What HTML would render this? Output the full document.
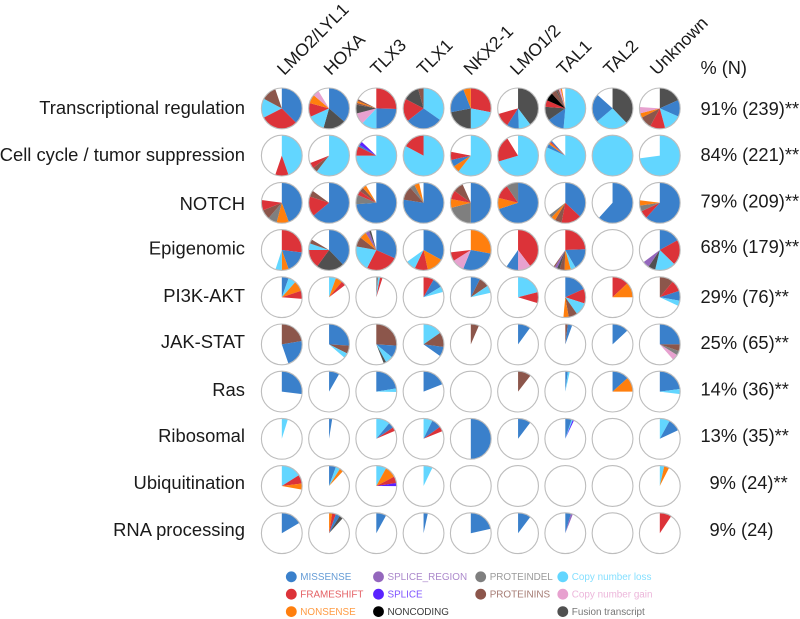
<!DOCTYPE html>
<html lang="en">
<head>
<meta charset="utf-8">
<title>Mutation pathways by subgroup</title>
<style>
html,body{margin:0;padding:0;background:#fff;width:800px;height:619px;overflow:hidden}
svg{display:block;font-family:"Liberation Sans",Arial,sans-serif;filter:blur(0.35px)}
</style>
</head>
<body>
<svg id="chart" xmlns="http://www.w3.org/2000/svg" width="800" height="619" viewBox="0 0 800 619"></svg>
<script>
const subgroups = ['LMO2/LYL1','HOXA','TLX3','TLX1','NKX2-1','LMO1/2','TAL1','TAL2','Unknown'];
const pathways = ['Transcriptional regulation','Cell cycle / tumor suppression','NOTCH','Epigenomic','PI3K-AKT','JAK-STAT','Ras','Ribosomal','Ubiquitination','RNA processing'];
const totals = ['91% (239)**','84% (221)**','79% (209)**','68% (179)**','29% (76)**','25% (65)**','14% (36)**','13% (35)**','9% (24)**','9% (24)'];
const typeKeys = ['M','F','N','R','S','C','D','I','L','G','T'];
const typeNames = ['MISSENSE','FRAMESHIFT','NONSENSE','SPLICE_REGION','SPLICE','NONCODING','PROTEINDEL','PROTEININS','Copy number loss','Copy number gain','Fusion transcript'];
const typeColors = ['#3a80cb','#dc3339','#ff7f0e','#9467bd','#5a22ff','#000000','#7f7f7f','#8c564b','#62d6ff','#e7a1cf','#505050'];

/* Each pie: alternating type key and percent of samples, clockwise from 12 o'clock */
const transcriptional = [
  ['M',37.5,'F',30,'L',15.3,'I',12],
  ['M',36.4,'T',18,'L',13.9,'F',11,'N',7,'G',5],
  ['F',25.5,'M',24.5,'L',12,'G',9,'T',7,'I',1.5,'N',1.5,'I',1.5],
  ['L',34.7,'M',29.7,'F',18.3,'T',13,'I',4.3],
  ['F',28,'L',22,'T',22,'M',22,'N',6],
  ['T',39.7,'L',9.7,'M',9.7,'F',11.5],
  ['L',51.4,'M',13.9,'T',11,'F',5.3,'C',6.7,'I',4,'T',1,'I',1.5,'G',1.5,'N',1],
  ['T',37.8,'L',26,'M',22.8],
  ['T',18.3,'M',13.3,'L',14.2,'F',12,'I',9.7,'N',3.6,'G',5]
];
const cellCycle = [
  ['L',44.7,'F',10.5],
  ['L',60.5,'I',4,'F',4.5],
  ['L',75,'F',7.5,'M',1.5,'S',3],
  ['L',82.8,'F',17.2],
  ['L',60.5,'N',5.5,'M',5.5,'F',6.5],
  ['L',70.3,'F',20.8],
  ['L',81.7,'M',3,'N',1.5,'F',1,'M',1],
  ['L',100],
  ['L',72.8]
];
const notch = [
  ['M',44.4,'N',9.7,'D',7.3,'I',7.5,'F',8.3],
  ['M',64,'F',16,'I',5],
  ['M',73.9,'D',7.5,'F',3.5,'I',3.5,'N',3],
  ['M',77.5,'I',11,'D',4,'N',4],
  ['M',50,'D',21,'N',7,'F',7,'I',8.3],
  ['M',70,'N',9,'F',11.5,'D',9.5],
  ['M',37,'F',16,'I',5.5,'N',3.5,'D',2.5],
  ['M',61.7],
  ['M',61.7,'F',6.4,'D',4.7,'N',4.2]
];
const epigenomic = [
  ['F',27,'M',17.5,'N',5.5,'L',5],
  ['M',37.8,'T',22.2,'F',15,'L',5.3,'I',3.3],
  ['M',31.7,'F',25.8,'L',20.3,'I',7.8,'N',5.6,'R',3,'T',1.5],
  ['M',33,'N',13.6,'F',10.5,'L',8],
  ['N',27.8,'M',28.3,'G',10,'F',7],
  ['F',39.7,'G',10.3,'M',9.7],
  ['F',24.4,'M',17.2,'L',4,'N',5,'I',4,'T',2.2,'R',2,'I',1],
  [],
  ['M',17,'F',20.3,'L',16.4,'T',5.8,'R',5.3]
];
const pi3kAkt = [
  ['M',5.5,'L',6.1,'N',8.3,'F',6.4],
  ['L',5.5,'N',5.5,'F',3.7],
  ['D',1.5,'L',1.5,'F',2],
  ['F',8.3,'M',8,'L',4.5],
  ['M',7.5,'I',8,'L',6],
  ['L',21,'F',8.7],
  ['M',18.3,'F',11.7,'L',10.3,'I',7,'N',4.2],
  ['F',13,'N',12],
  ['I',11,'F',9,'M',7.8,'L',4.2]
];
const jakStat = [
  ['I',22.3,'M',22.4],
  ['M',26,'I',6.4,'L',3.9],
  ['I',26,'M',10,'L',6,'T',2],
  ['L',15.3,'I',11.7,'M',7.8],
  ['I',6.5],
  ['M',10],
  ['I',2,'M',3.5],
  ['M',13],
  ['M',25,'I',5.3,'D',3.5,'G',4.7]
];
const ras = [
  ['M',27],
  ['M',8.3],
  ['M',22.5,'L',2.8],
  ['M',19],
  [],
  ['I',10.5],
  ['M',2,'L',1.5],
  ['M',13.3,'N',11.7],
  ['M',23,'L',4]
];
const ribosomal = [
  ['L',4.8],
  ['M',2.5],
  ['L',11,'M',4.5,'F',3],
  ['L',7.2,'M',7.8,'F',3.9],
  ['M',50],
  ['M',10.3],
  ['M',5,'L',1,'S',1],
  [],
  ['L',8,'M',10]
];
const ubiquitination = [
  ['L',16,'F',7,'N',4.8],
  ['M',5.5,'L',3.5,'N',3],
  ['L',8,'N',9.3,'F',5.3,'S',2.5],
  ['L',7.2],
  [],
  [],
  [],
  [],
  ['L',3.5,'N',4]
];
const rnaProcessing = [
  ['M',16.5],
  ['N',2.5,'F',3,'M',3.3,'T',3],
  ['M',8],
  ['M',3.4],
  ['M',21.5],
  ['M',10.3],
  ['M',4.5,'R',1.5],
  [],
  ['F',9.4]
];
const matrix = [transcriptional,cellCycle,notch,epigenomic,pi3kAkt,jakStat,ras,ribosomal,ubiquitination,rnaProcessing];

const NS = 'http://www.w3.org/2000/svg';
const svg = document.getElementById('chart');
const colX = i => 281.8 + i * 47.25;
const rowY = j => 108.4 + j * 47.2;
const colLabelX = i => 284.3 + i * 46.6;
const nudgeLeft = [0, 0, 2, 0, 0.5, -0.5, 0.5, -0.5, 0, 0];
const nudgeRight = [1, 0, -0.5, -1.5, 1.5, 0.5, 0, -0.5, 0, 0];
const labelY = j => 114 + j * 46.9;
const R = 20.4;
const angle = pct => pct / 100 * 2 * Math.PI;
const kebab = s => s.toLowerCase().replace(/[^a-z0-9]+/g, '-').replace(/^-|-$/g, '');

function mk(tag, attrs, parent) {
  const el = document.createElementNS(NS, tag);
  for (const k in attrs) el.setAttribute(k, attrs[k]);
  (parent || svg).appendChild(el);
  return el;
}

subgroups.forEach((name, i) => {
  const lx = colLabelX(i);
  const t = mk('text', {x: lx, y: 76, 'font-size': 17.6, fill: '#1a1a1a',
    transform: 'rotate(-45 ' + lx + ' 76)'});
  
  
  t.textContent = name;
});

const head = mk('text', {x: 700.5, y: 74, 'font-size': 18.2, fill: '#1a1a1a'});


head.textContent = '% (N)';

pathways.forEach((name, j) => {
  const t = mk('text', {x: 245, y: labelY(j) + nudgeLeft[j], 'font-size': 18.4, fill: '#1a1a1a', 'text-anchor': 'end'});
  
  
  t.textContent = name;

  const vx = totals[j].indexOf('%') === 1 ? 709.5 : 700.5;
  const v = mk('text', {x: vx, y: labelY(j) + nudgeRight[j], 'font-size': 18.3, fill: '#1a1a1a'});
  
  
  v.textContent = totals[j];

  matrix[j].forEach((pie, i) => {
    const cx = colX(i), cy = rowY(j);
    const g = mk('g', {});
    
    
    mk('circle', {cx: cx, cy: cy, r: R, fill: '#fff'}, g);
    let acc = 0;
    for (let k = 0; k < pie.length; k += 2) {
      const key = pie[k], pct = pie[k + 1];
      const idx = typeKeys.indexOf(key);
      const color = typeColors[idx];
      if (pct >= 99.99) {
        const full = mk('circle', {cx: cx, cy: cy, r: R, fill: color}, g);
        
        
      } else {
        const a0 = angle(acc), a1 = angle(acc + pct);
        const d = 'M' + cx + ' ' + cy +
          'L' + (cx + R * Math.sin(a0)).toFixed(2) + ' ' + (cy - R * Math.cos(a0)).toFixed(2) +
          'A' + R + ' ' + R + ' 0 ' + (pct > 50 ? 1 : 0) + ' 1 ' +
          (cx + R * Math.sin(a1)).toFixed(2) + ' ' + (cy - R * Math.cos(a1)).toFixed(2) + 'Z';
        const s = mk('path', {d: d, fill: color}, g);
        
        
      }
      acc += pct;
    }
    mk('circle', {cx: cx, cy: cy, r: R, fill: 'none', stroke: '#bdbdbd', 'stroke-width': 1.1}, g);
  });
});

/* Legend: column and row of each entry follow the typeNames order */
const legendCols = [0,0,0,1,1,1,2,2,3,3,3];
const legendRows = [0,1,2,0,1,2,0,1,0,1,2];
const legendColX = c => [291.3, 378.5, 480.7, 562.8][c];
const legendRowY = r => 576.8 + r * 17.4;
const legend = mk('g', {});


typeNames.forEach((name, n) => {
  const x = legendColX(legendCols[n]), y = legendRowY(legendRows[n]);
  const g = mk('g', {}, legend);
  
  
  mk('circle', {cx: x, cy: y, r: 5.4, fill: typeColors[n]}, g);
  const t = mk('text', {x: x + 9, y: y + 3.4, 'font-size': 9.9, fill: typeColors[n], 'fill-opacity': 0.78}, g);
  t.textContent = name;
});
</script>
</body>
</html>
